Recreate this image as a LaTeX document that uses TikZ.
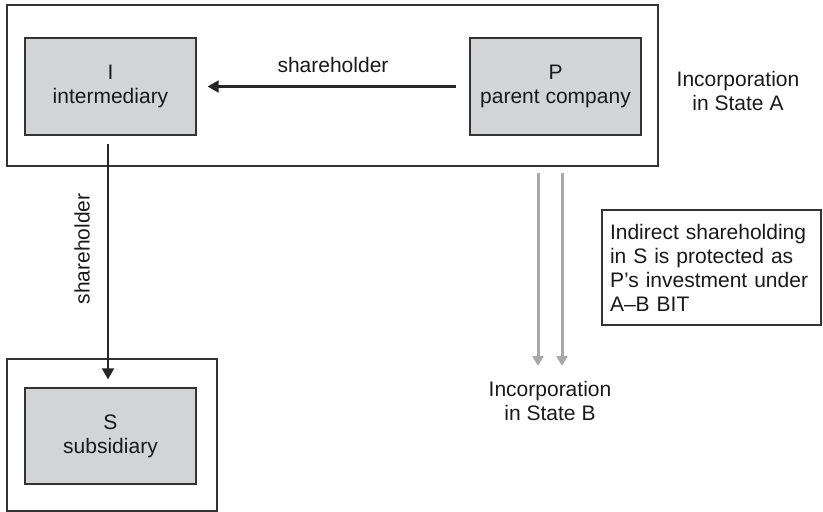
\documentclass[tikz,border=0pt]{standalone}
\usepackage{fontspec}
\setmainfont{Liberation Sans}
\usetikzlibrary{arrows.meta}
\definecolor{edge}{HTML}{333333}
\definecolor{boxfill}{HTML}{D3D4D6}
\definecolor{flow}{HTML}{A9A9AB}
\tikzset{
  txt/.style={font=\fontsize{21}{24}\selectfont, text=black!90, align=center, inner sep=0pt},
  frame/.style={draw=edge, line width=1.3pt, fill=white, inner sep=0pt},
  entity/.style={draw=edge, line width=1.3pt, fill=boxfill, txt,
                 minimum width=171pt, minimum height=97pt},
  note/.style={draw=edge, line width=1.3pt, fill=white, txt, align=left,
               inner sep=0pt, minimum width=219pt, minimum height=115pt,
               text width=203pt},
  owns/.style={draw=black!85, line width=2.2pt,
               -{Triangle[length=11pt,width=12pt]}},
  incorp/.style={draw=flow, line width=3pt,
                 -{Triangle[length=10pt,width=11pt]}}
}
\begin{document}
\begin{tikzpicture}[x=1pt,y=-1pt]
  \useasboundingbox (0,0) rectangle (823,512);

  % state A frame and state B frame
  \node[frame, minimum width=651pt, minimum height=161pt] (stateA) at (332.5,85.5) {};
  \node[frame, minimum width=210pt, minimum height=152pt] (stateB) at (112,435) {};

  % companies
  \node[entity] (I) at (110.5,86.5) {I\\intermediary};
  \node[entity] (P) at (555.5,86.5) {P\\parent company};
  \node[entity, minimum height=96pt] (S) at (110.5,436) {S\\subsidiary};

  % shareholding links
  \draw[owns, shorten <=13pt, shorten >=11pt] (P.west) -- (I.east)
    node[txt, midway, above=13pt] (lblPI) {shareholder};
  \draw[owns, shorten <=8pt, shorten >=8pt] ([xshift=-2.5pt]I.south) -- ([xshift=-2.5pt]S.north)
    node[txt, pos=0.45, rotate=90, above=17pt] (lblIS) {shareholder};

  % incorporation labels
  \node[txt] (incA) at (738,91) {Incorporation\\in State A};
  \node[txt] (incB) at (550,401) {Incorporation\\in State B};

  % incorporation flow towards state B
  \coordinate (g1) at (538,173);
  \coordinate (g2) at (562,173);
  \draw[incorp] (g1) -- (g1 |- 0,366);
  \draw[incorp] (g2) -- (g2 |- 0,366);

  % note
  \node[note] (bit) at (711.5,267.5) {Indirect shareholding\\in S is protected as\\P’s investment under\\A–B BIT};
\end{tikzpicture}
\end{document}
